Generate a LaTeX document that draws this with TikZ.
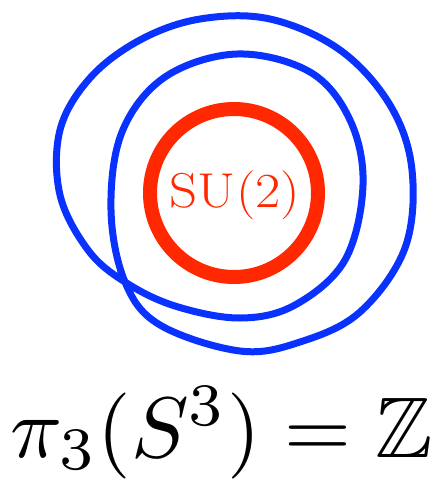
\documentclass[tikz,border=0pt]{standalone}
\usepackage{amssymb}
\usepackage{graphicx}
\definecolor{loopblue}{RGB}{10,50,255}
\definecolor{ringred}{RGB}{255,40,0}
\tikzset{
  loopline/.style={draw=loopblue, line width=7pt, line join=round},
  ringline/.style={draw=ringred, line width=14pt},
  formula/.style={scale=8.6, anchor=base, inner sep=0pt},
  sulabel/.style={text=ringred, inner sep=0pt, font=\fontsize{49}{55}\selectfont}
}
\begin{document}
\begin{tikzpicture}[x=1pt,y=-1pt]
\useasboundingbox (0,0) rectangle (438,483);
% red ring
\node[circle, minimum size=168pt, inner sep=0pt, ringline] (ring) at (234,193) {};
\node[sulabel] (su) at (235,195) {\scalebox{1.12}[1]{SU(2)}};
% blue loop winding twice
\draw[loopline] plot[smooth cycle, tension=0.6] coordinates {
  (125,282) (111,210) (122,132) (165,77) (237,54) (310,72) (350,120)
  (363,185) (345,260) (295,305) (240,318) (175,306)
  (125,282) (88,250) (60,195) (60,130) (90,78) (140,40) (200,19) (270,19)
  (340,50) (390,105) (412,170) (405,248) (360,312) (300,342)
  (240,351) (160,325)
};
\node[formula] (eq) at (221.5,457) {$\pi_3(S^3)=\mathbb{Z}$};
\end{tikzpicture}
\end{document}
